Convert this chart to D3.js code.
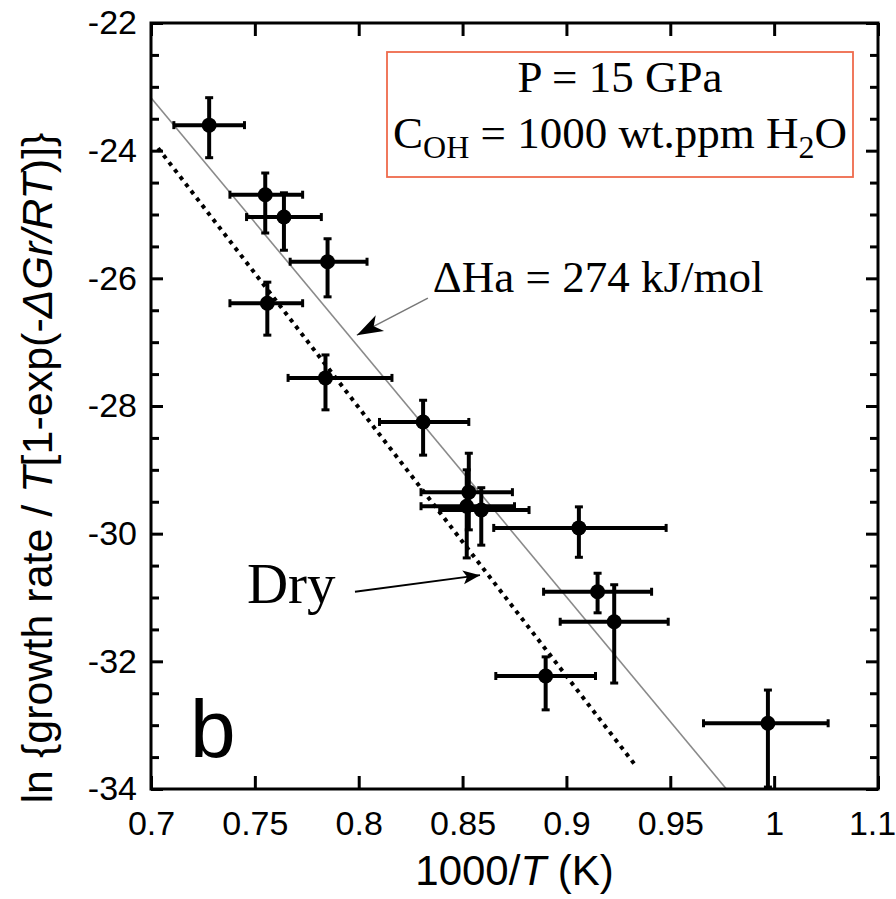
<!DOCTYPE html>
<html>
<head>
  <meta charset="utf-8">
  <title>Growth rate vs 1000/T</title>
  <script src="https://cdn.jsdelivr.net/npm/d3@7/dist/d3.min.js"></script>
  <style>
    body { margin: 0; background: #fff; }
    svg text { fill: #000; }
    .tick text { font-family: 'Liberation Sans', Arial, sans-serif; font-size: 34px; }
    .serif { font-family: 'Liberation Serif', 'Times New Roman', serif; }
  </style>
</head>
<body>
  <svg id="chart" width="896" height="899"></svg>

  <script>
    // 1000/T values and the fitted quantity
    var invT = [0.728, 0.755, 0.764, 0.785, 0.756, 0.784, 0.831, 0.853, 0.852, 0.859, 0.906, 0.915, 0.923, 0.890, 0.997];
    var lnRate = [-23.60, -24.69, -25.04, -25.74, -26.39, -27.56, -28.25, -29.35, -29.57, -29.63, -29.91, -30.91, -31.38, -32.23, -32.97];
    var invTLow = [0.711, 0.738, 0.746, 0.767, 0.738, 0.766, 0.810, 0.830, 0.830, 0.839, 0.865, 0.889, 0.897, 0.866, 0.966];
    var invTHigh = [0.745, 0.773, 0.782, 0.804, 0.773, 0.816, 0.853, 0.874, 0.875, 0.882, 0.948, 0.941, 0.949, 0.914, 1.026];
    var lnLow = [-24.11, -25.29, -25.56, -26.29, -26.89, -28.06, -28.77, -29.94, -30.38, -30.18, -30.37, -31.24, -32.34, -32.76, -33.97];
    var lnHigh = [-23.17, -24.35, -24.66, -25.38, -26.06, -27.20, -27.91, -28.74, -29.00, -29.28, -29.58, -30.62, -30.80, -31.93, -32.45];

    // wet fit (solid grey) and dry fit (dotted)
    var wetFit = [[0.700, -23.17], [0.977, -34.0]];
    var dryFit = [[0.7034, -23.96], [0.933, -33.62]];

    var xTicks = [0.7, 0.75, 0.8, 0.85, 0.9, 0.95, 1.0, 1.05];
    var xTickLabels = ['0.7', '0.75', '0.8', '0.85', '0.9', '0.95', '1', '1.1'];
    var yTicks = [-22, -24, -26, -28, -30, -32, -34];

    var svg = d3.select('#chart'),
      margin = { top: 23, right: 18, bottom: 110, left: 151 },
      width = +svg.attr('width') - margin.left - margin.right,
      height = +svg.attr('height') - margin.top - margin.bottom,
      g = svg.append('g').attr('transform', 'translate(' + margin.left + ',' + margin.top + ')');

    var x = d3.scaleLinear().domain([0.7, 1.05]).range([0, width]);
    var y = d3.scaleLinear().domain([-34, -22]).range([height, 0]);
    var yMinor = d3.range(-34, -21.9, 0.5).filter(v => !yTicks.includes(v));

    function clean(sel) {
      sel.select('.domain').remove();
      sel.selectAll('.tick line').attr('stroke', '#000').attr('stroke-width', 3);
    }

    // bottom + top
    g.append('g')
      .attr('transform', 'translate(0,' + height + ')')
      .call(d3.axisBottom(x).tickValues(xTicks).tickSize(-13).tickPadding(22)
        .tickFormat((d, i) => xTickLabels[i]))
      .call(clean)
      .selectAll('.tick:last-of-type text').attr('dx', -6);
    g.append('g')
      .call(d3.axisTop(x).tickValues(xTicks).tickSize(-13).tickFormat(''))
      .call(clean);

    // left + right, major and minor
    g.append('g')
      .call(d3.axisLeft(y).tickValues(yTicks).tickSize(-12).tickPadding(14).tickFormat(d => String(d)))
      .call(clean);
    g.append('g')
      .call(d3.axisLeft(y).tickValues(yMinor).tickSize(-8).tickFormat(''))
      .call(clean);
    g.append('g')
      .attr('transform', 'translate(' + width + ',0)')
      .call(d3.axisRight(y).tickValues(yTicks).tickSize(-12).tickFormat(''))
      .call(clean);
    g.append('g')
      .attr('transform', 'translate(' + width + ',0)')
      .call(d3.axisRight(y).tickValues(yMinor).tickSize(-8).tickFormat(''))
      .call(clean);

    // fits
    var line = d3.line().x(d => x(d[0])).y(d => y(d[1]));
    g.append('path')
      .datum(wetFit)
      .attr('fill', 'none')
      .attr('stroke', '#8a8a8a')
      .attr('stroke-width', 1.6)
      .attr('d', line);
    g.append('path')
      .datum(dryFit)
      .attr('fill', 'none')
      .attr('stroke', '#000')
      .attr('stroke-width', 4)
      .attr('stroke-dasharray', '4,5')
      .attr('d', line);

    // error bars
    var pts = invT.map((v, i) => ({ x: v, y: lnRate[i], x0: invTLow[i], x1: invTHigh[i], y0: lnLow[i], y1: lnHigh[i] }));
    var eb = g.append('g').attr('stroke', '#000').attr('stroke-width', 4);
    eb.selectAll('.hbar').data(pts).join('line')
      .attr('x1', d => x(d.x0)).attr('x2', d => x(d.x1))
      .attr('y1', d => y(d.y)).attr('y2', d => y(d.y));
    eb.selectAll('.vbar').data(pts).join('line')
      .attr('x1', d => x(d.x)).attr('x2', d => x(d.x))
      .attr('y1', d => y(d.y0)).attr('y2', d => y(d.y1));
    var cap = 4;
    [['x0', 'h'], ['x1', 'h'], ['y0', 'v'], ['y1', 'v']].forEach(c => {
      eb.selectAll('.cap-' + c[0]).data(pts).join('line')
        .attr('stroke-width', 3)
        .attr('x1', d => c[1] === 'h' ? x(d[c[0]]) : x(d.x) - cap)
        .attr('x2', d => c[1] === 'h' ? x(d[c[0]]) : x(d.x) + cap)
        .attr('y1', d => c[1] === 'h' ? y(d.y) - cap : y(d[c[0]]))
        .attr('y2', d => c[1] === 'h' ? y(d.y) + cap : y(d[c[0]]));
    });
    g.append('g').selectAll('circle').data(pts).join('circle')
      .attr('cx', d => x(d.x))
      .attr('cy', d => y(d.y))
      .attr('r', 7.5)
      .attr('fill', '#000');

    // frame
    g.append('rect')
      .attr('width', width).attr('height', height)
      .attr('fill', 'none').attr('stroke', '#000').attr('stroke-width', 3);

    // arrowheads
    var defs = svg.append('defs');
    defs.append('marker').attr('id', 'bigHead')
      .attr('markerUnits', 'userSpaceOnUse').attr('markerWidth', 30).attr('markerHeight', 30)
      .attr('viewBox', '-26 -10 30 20').attr('refX', 0).attr('refY', 0).attr('orient', 'auto')
      .append('path').attr('d', 'M0,0 L-26,-9 L-19,0 L-26,9 Z').attr('fill', '#000');
    defs.append('marker').attr('id', 'smallHead')
      .attr('markerUnits', 'userSpaceOnUse').attr('markerWidth', 20).attr('markerHeight', 20)
      .attr('viewBox', '-17 -8 20 16').attr('refX', 0).attr('refY', 0).attr('orient', 'auto')
      .append('path').attr('d', 'M0,0 L-17,-7 L-13,0 L-17,7 Z').attr('fill', '#000');

    g.append('line')
      .attr('x1', x(0.8333)).attr('y1', y(-26.31))
      .attr('x2', x(0.7991)).attr('y2', y(-26.89))
      .attr('stroke', '#777').attr('stroke-width', 1.5)
      .attr('marker-end', 'url(#bigHead)');
    g.append('line')
      .attr('x1', x(0.7982)).attr('y1', y(-30.91))
      .attr('x2', x(0.8584)).attr('y2', y(-30.65))
      .attr('stroke', '#000').attr('stroke-width', 1.8)
      .attr('marker-end', 'url(#smallHead)');

    // labels inside the plot
    g.append('text').attr('class', 'serif')
      .attr('x', x(0.8357)).attr('y', y(-26.21))
      .attr('font-size', 45)
      .text('\u0394Ha = 274 kJ/mol');
    g.append('text').attr('class', 'serif')
      .attr('x', x(0.7462)).attr('y', y(-31.09))
      .attr('font-size', 57)
      .text('Dry');
    g.append('text')
      .attr('x', x(0.7188)).attr('y', y(-33.50))
      .attr('font-family', 'Liberation Sans, Arial, sans-serif')
      .attr('font-size', 82)
      .text('b');

    // condition box
    svg.append('rect')
      .attr('x', 387).attr('y', 52).attr('width', 466).attr('height', 125)
      .attr('fill', '#fff').attr('stroke', '#ef6a4c').attr('stroke-width', 1.8);
    svg.append('text').attr('class', 'serif')
      .attr('x', 620).attr('y', 92).attr('text-anchor', 'middle').attr('font-size', 45)
      .text('P = 15 GPa');
    var t2 = svg.append('text').attr('class', 'serif')
      .attr('x', 620).attr('y', 148).attr('text-anchor', 'middle').attr('font-size', 45);
    t2.append('tspan').text('C');
    t2.append('tspan').attr('font-size', 32).attr('dy', 10).text('OH');
    t2.append('tspan').attr('dy', -10).text(' = 1000 wt.ppm H');
    t2.append('tspan').attr('font-size', 32).attr('dy', 10).text('2');
    t2.append('tspan').attr('dy', -10).text('O');

    // axis titles
    var xt = svg.append('text')
      .attr('x', margin.left + width / 2).attr('y', 885)
      .attr('text-anchor', 'middle')
      .attr('font-family', 'Liberation Sans, Arial, sans-serif')
      .attr('font-size', 42);
    xt.append('tspan').text('1000/');
    xt.append('tspan').attr('font-style', 'italic').text('T');
    xt.append('tspan').text(' (K)');

    var yt = svg.append('text')
      .attr('transform', 'translate(52,468) rotate(-90)')
      .attr('text-anchor', 'middle')
      .attr('font-family', 'Liberation Sans, Arial, sans-serif')
      .attr('font-size', 43);
    yt.append('tspan').text('ln {growth rate / ');
    yt.append('tspan').attr('font-style', 'italic').text('T');
    yt.append('tspan').text('[1-exp(-');
    yt.append('tspan').attr('font-style', 'italic').text('\u0394Gr/RT');
    yt.append('tspan').text(')]}');
  </script>
</body>
</html>
